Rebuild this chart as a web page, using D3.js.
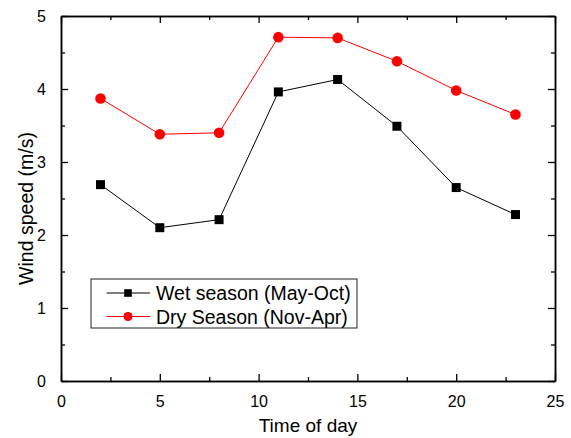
<!DOCTYPE html>
<html>
<head>
<meta charset="utf-8">
<script src="https://cdn.jsdelivr.net/npm/d3@7"></script>
<style>
	body{ margin:0; background:#fff; }
	text{ font-family:"Liberation Sans", Arial, sans-serif; fill:#000; }
</style>
</head>
<body>
<div id="chart"></div>
<script>
// hours of the day where wind speed was sampled
var hours = [2, 5, 8, 11, 14, 17, 20, 23];
var wetSeason = [2.69, 2.10, 2.21, 3.96, 4.13, 3.49, 2.65, 2.28];
var drySeason = [3.87, 3.38, 3.40, 4.71, 4.70, 4.38, 3.98, 3.65];
var xTicks = [0, 5, 10, 15, 20, 25];
var yTicks = [0, 1, 2, 3, 4, 5];
var legendLabels = ["Wet season (May-Oct)", "Dry Season (Nov-Apr)"];

var W = 571, H = 438;
var m = {left:61, right:16, top:16, bottom:57};

var svg = d3.select('#chart').append('svg')
	.attr('width', W).attr('height', H);

var x = d3.scaleLinear().domain([0, 25]).range([m.left, W - m.right]);
var y = d3.scaleLinear().domain([0, 5]).range([H - m.bottom, m.top]);

// minor ticks halfway between the majors
var xMinor = d3.range(2.5, 25, 5);
var yMinor = d3.range(0.5, 5, 1);

var gAxes = svg.append('g').attr('class', 'axes');

function tickAxis(axis, scale, ticks, len, labels){
	return axis(scale).tickValues(ticks).tickSizeInner(-len).tickSizeOuter(0)
		.tickPadding(len + 8).tickFormat(labels ? d3.format('d') : '');
}

// bottom
gAxes.append('g').attr('transform', 'translate(0,' + y(0) + ')')
	.call(tickAxis(d3.axisBottom, x, xTicks, 7, true));
gAxes.append('g').attr('transform', 'translate(0,' + y(0) + ')')
	.call(tickAxis(d3.axisBottom, x, xMinor, 4, false));
// top
gAxes.append('g').attr('transform', 'translate(0,' + y(5) + ')')
	.call(tickAxis(d3.axisTop, x, xTicks, 7, false));
gAxes.append('g').attr('transform', 'translate(0,' + y(5) + ')')
	.call(tickAxis(d3.axisTop, x, xMinor, 4, false));
// left
gAxes.append('g').attr('transform', 'translate(' + x(0) + ',0)')
	.call(tickAxis(d3.axisLeft, y, yTicks, 7, true));
gAxes.append('g').attr('transform', 'translate(' + x(0) + ',0)')
	.call(tickAxis(d3.axisLeft, y, yMinor, 4, false));
// right
gAxes.append('g').attr('transform', 'translate(' + x(25) + ',0)')
	.call(tickAxis(d3.axisRight, y, yTicks, 7, false));
gAxes.append('g').attr('transform', 'translate(' + x(25) + ',0)')
	.call(tickAxis(d3.axisRight, y, yMinor, 4, false));

gAxes.selectAll('.domain').attr('stroke', '#000').attr('stroke-width', 1.5);
gAxes.selectAll('.tick line').attr('stroke', '#000').attr('stroke-width', 1.3);
gAxes.selectAll('.tick text').style('font-size', '16px')
	.style('font-family', '"Liberation Sans", Arial, sans-serif').attr('fill', '#000');

// axis titles
svg.append('text')
	.attr('x', (x(0) + x(25)) / 2).attr('y', 432)
	.attr('text-anchor', 'middle').style('font-size', '19px')
	.text('Time of day');
svg.append('text')
	.attr('transform', 'translate(33,' + ((y(0) + y(5)) / 2 + 10) + ') rotate(-90)')
	.attr('text-anchor', 'middle').style('font-size', '19.5px')
	.text('Wind speed (m/s)');

var line = d3.line()
	.x(function(d, i){ return x(hours[i]); })
	.y(function(d){ return y(d); });

var gData = svg.append('g').attr('class', 'series');

gData.append('path').datum(wetSeason)
	.attr('fill', 'none').attr('stroke', '#000').attr('stroke-width', 1)
	.attr('d', line);
gData.append('path').datum(drySeason)
	.attr('fill', 'none').attr('stroke', '#ff0000').attr('stroke-width', 1)
	.attr('d', line);

gData.selectAll('rect.wet')
	.data(wetSeason).enter().append('rect')
	.attr('class', 'wet')
	.attr('x', function(d, i){ return x(hours[i]) - 4.5; })
	.attr('y', function(d){ return y(d) - 4.5; })
	.attr('width', 9).attr('height', 9)
	.attr('fill', '#000');

gData.selectAll('circle.dry')
	.data(drySeason).enter().append('circle')
	.attr('class', 'dry')
	.attr('cx', function(d, i){ return x(hours[i]); })
	.attr('cy', function(d){ return y(d); })
	.attr('r', 5.3)
	.attr('fill', '#ff0000');

// legend
var gLegend = svg.append('g').attr('transform', 'translate(91,279)');
gLegend.append('rect')
	.attr('width', 266).attr('height', 49)
	.attr('fill', '#fff').attr('stroke', '#222').attr('stroke-width', 1);

var rows = gLegend.selectAll('g.row')
	.data(legendLabels).enter().append('g')
	.attr('class', 'row')
	.attr('transform', function(d, i){ return 'translate(0,' + (14 + i * 23.5) + ')'; });

rows.append('line')
	.attr('x1', 15.5).attr('x2', 59).attr('y1', 0).attr('y2', 0)
	.attr('stroke', function(d, i){ return i ? '#ff0000' : '#000'; })
	.attr('stroke-width', 1);

rows.filter(function(d, i){ return i == 0; }).append('rect')
	.attr('x', 37 - 3.8).attr('y', -3.8).attr('width', 7.6).attr('height', 7.6)
	.attr('fill', '#000');
rows.filter(function(d, i){ return i == 1; }).append('circle')
	.attr('cx', 37).attr('cy', 0).attr('r', 4.5)
	.attr('fill', '#ff0000');

rows.append('text')
	.attr('x', 65).attr('y', 7)
	.style('font-size', '19.5px')
	.text(function(d){ return d; });
</script>
</body>
</html>
